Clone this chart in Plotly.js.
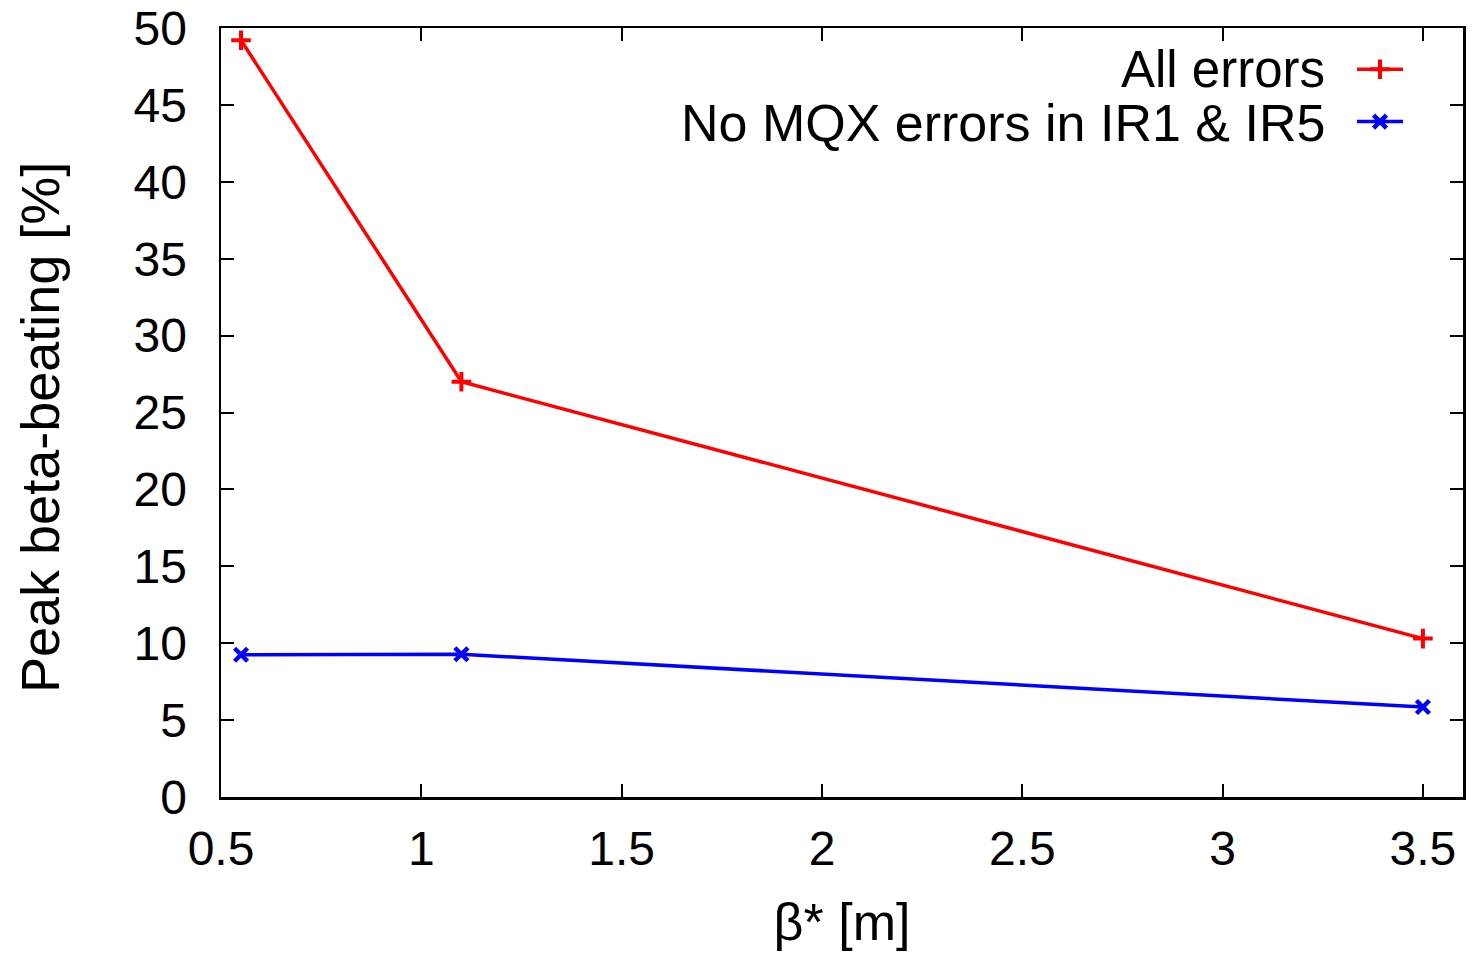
<!DOCTYPE html>
<html>
<head>
<meta charset="utf-8">
<script src="https://cdn.plot.ly/plotly-3.0.1.min.js"></script>
<style>html,body{margin:0;padding:0;background:#fff;}#chart{width:1473px;height:956px;}</style>
</head>
<body>
<div id="chart"></div>
<script>
const betaStar = [0.55, 1.1, 3.5];
const allErrors = [49.2, 27.0, 10.3];
const noMQX = [9.25, 9.28, 5.85];
const seriesNames = ["All errors", "No MQX errors in IR1 & IR5"];
const xTicks = [0.5, 1, 1.5, 2, 2.5, 3, 3.5];
const xTickText = ["0.5", "1", "1.5", "2", "2.5", "3", "3.5"];
const yTicks = [0, 5, 10, 15, 20, 25, 30, 35, 40, 45, 50];
const xTitle = "β* [m]";
const yTitle = "Peak beta-beating [%]";

const FONT = "Liberation Sans, Arial, sans-serif";
const L = 221, R = 1463, T = 28, B = 797;
const px = v => (v - L) / (R - L);
const py = v => 1 - (v - T) / (B - T);

const traces = [
  {x: betaStar, y: allErrors, name: " ", mode: "lines+markers",
   line: {color: "#ff0000", width: 3.5},
   marker: {symbol: "cross-thin", size: 14, line: {color: "#ff0000", width: 4}}},
  {x: betaStar, y: noMQX, name: " ", mode: "lines+markers",
   line: {color: "#0000ff", width: 3.5},
   marker: {symbol: "x-thin", size: 13, line: {color: "#0000ff", width: 4.5}}}
];
const axisCommon = {
  showgrid: false, zeroline: false, showline: true, linecolor: "#000", linewidth: 2.5,
  mirror: "ticks", ticks: "inside", ticklen: 13, tickwidth: 2, tickcolor: "#000",
  tickfont: {family: FONT, size: 48, color: "#000"}
};
const layout = {
  width: 1473, height: 956,
  margin: {l: L, r: 1473 - R, t: T, b: 956 - B},
  paper_bgcolor: "#fff", plot_bgcolor: "#fff",
  font: {family: FONT, color: "#000"},
  xaxis: Object.assign({}, axisCommon, {
    range: [0.5, 3.6], tickvals: xTicks, ticktext: xTickText, ticklabelstandoff: 8,
    title: {text: xTitle, font: {family: FONT, size: 52}, standoff: 30}
  }),
  yaxis: Object.assign({}, axisCommon, {
    range: [0, 50], tickvals: yTicks, ticklabelstandoff: 22
  }),
  showlegend: true,
  legend: {x: px(1424), xref: "paper", xanchor: "right", y: py(38), yref: "paper", yanchor: "top",
           bgcolor: "rgba(0,0,0,0)", font: {family: FONT, size: 38}, tracegroupgap: 0, itemwidth: 46},
  annotations: [
    {text: seriesNames[0], xref: "paper", yref: "paper", x: px(1327), y: py(70),
     xanchor: "right", yanchor: "middle", showarrow: false, font: {family: FONT, size: 51, color: "#000"}},
    {text: seriesNames[1], xref: "paper", yref: "paper", x: px(1327), y: py(123),
     xanchor: "right", yanchor: "middle", showarrow: false, font: {family: FONT, size: 52, color: "#000"}},
    {text: yTitle, xref: "paper", yref: "paper", x: px(40), y: py(428), textangle: -90,
     xanchor: "center", yanchor: "middle", showarrow: false, font: {family: FONT, size: 54, color: "#000"}}
  ]
};
Plotly.newPlot("chart", traces, layout, {displayModeBar: false, staticPlot: true});
</script>
</body>
</html>
